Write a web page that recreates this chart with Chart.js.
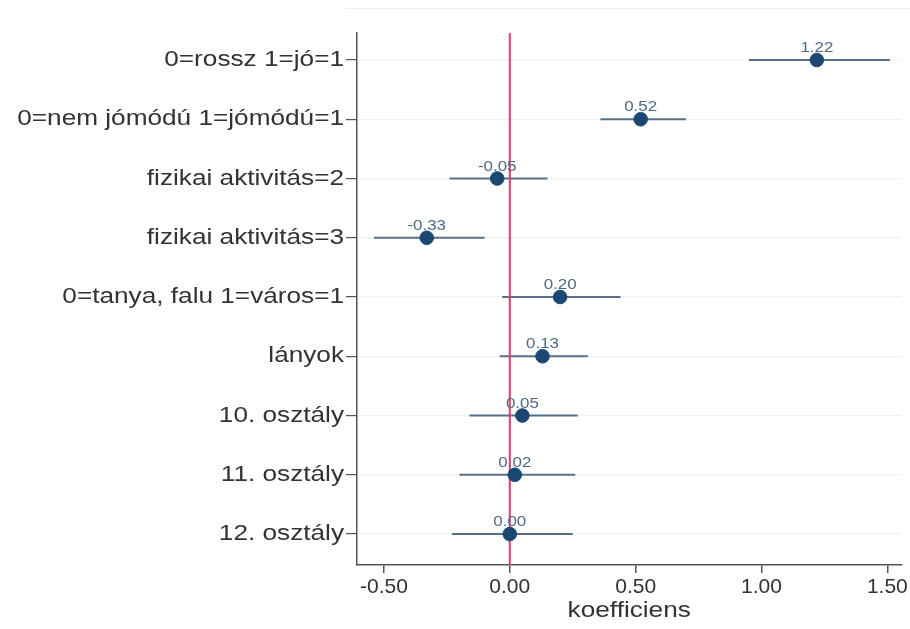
<!DOCTYPE html>
<html>
<head>
<meta charset="utf-8">
<script src="https://cdn.jsdelivr.net/npm/chart.js@4/dist/chart.umd.min.js"></script>
<style>
html,body{margin:0;padding:0;background:#fff;}
#wrap{width:910px;height:629px;position:relative;}
</style>
</head>
<body>
<div id="wrap"><canvas id="c" width="910" height="629"></canvas></div>
<script>
const categories = ["0=rossz 1=jó=1","0=nem jómódú 1=jómódú=1","fizikai aktivitás=2","fizikai aktivitás=3","0=tanya, falu 1=város=1","lányok","10. osztály","11. osztály","12. osztály"];
const coefs = [1.22, 0.52, -0.05, -0.33, 0.20, 0.13, 0.05, 0.02, 0.00];
const ciLow = [0.95, 0.36, -0.24, -0.54, -0.03, -0.04, -0.16, -0.20, -0.23];
const ciHigh = [1.51, 0.70, 0.15, -0.10, 0.44, 0.31, 0.27, 0.26, 0.25];
const xTicks = [-0.5, 0, 0.5, 1.0, 1.5];
const refValue = 0;

const Y_MIN = 0.544, Y_MAX = 9.523;
const dotColor = '#1b4872';
const barColor = '#56708a';
const labelColor = '#4f6a86';
const FONT = '"Liberation Sans", Arial, sans-serif';

// horizontally widen text drawn at certain sizes (the reference text is wide)
const canvas = document.getElementById('c');
const ctx0 = canvas.getContext('2d');
const origFill = ctx0.fillText.bind(ctx0);
const widen = {'22px': 1.19, '15px': 1.13};
ctx0.fillText = function(t, x, y, mw) {
  const m = /(\d+)px/.exec(ctx0.font);
  const s = m ? widen[m[1] + 'px'] : undefined;
  if (!s) return origFill(t, x, y);
  ctx0.save();
  ctx0.translate(x, y);
  ctx0.scale(s, 1);
  origFill(t, 0, 0);
  ctx0.restore();
};

const datasets = [];
categories.forEach((c, i) => {
  datasets.push({
    type: 'line',
    data: [{x: ciLow[i], y: i + 1}, {x: ciHigh[i], y: i + 1}],
    borderColor: barColor,
    borderWidth: 2.2,
    pointRadius: 0,
    fill: false,
    order: 2
  });
});
datasets.push({
  type: 'line',
  data: [{x: refValue, y: Y_MIN}, {x: refValue, y: Y_MAX}],
  borderColor: '#d5416b',
  borderWidth: 2,
  pointRadius: 0,
  fill: false,
  order: 1
});
datasets.push({
  type: 'scatter',
  data: coefs.map((v, i) => ({x: v, y: i + 1})),
  backgroundColor: dotColor,
  borderColor: dotColor,
  pointRadius: 6.8,
  pointHoverRadius: 6.8,
  order: 0
});

const valueLabels = {
  id: 'valueLabels',
  afterDatasetsDraw(chart) {
    const ctx = chart.ctx;
    const xs = chart.scales.x, ys = chart.scales.y;
    ctx.save();
    ctx.font = '15px ' + FONT;
    ctx.fillStyle = labelColor;
    ctx.textAlign = 'center';
    ctx.textBaseline = 'alphabetic';
    coefs.forEach((v, i) => {
      ctx.fillText(v.toFixed(2), xs.getPixelForValue(v), ys.getPixelForValue(i + 1) - 8);
    });
    ctx.restore();
  }
};

const topRule = {
  id: 'topRule',
  beforeDraw(chart) {
    const ctx = chart.ctx;
    ctx.save();
    ctx.strokeStyle = '#eceff2';
    ctx.lineWidth = 1;
    ctx.beginPath();
    ctx.moveTo(345, 8.5);
    ctx.lineTo(chart.width, 8.5);
    ctx.stroke();
    ctx.restore();
  }
};

new Chart(canvas, {
  type: 'scatter',
  data: {datasets},
  options: {
    responsive: false,
    animation: false,
    layout: {padding: {top: 33, right: 8, left: 0, bottom: 0}},
    plugins: {legend: {display: false}, tooltip: {enabled: false}},
    scales: {
      x: {
        type: 'linear',
        min: -0.607,
        max: 1.556,
        afterBuildTicks: (axis) => { axis.ticks = xTicks.map(v => ({value: v})); },
        afterFit: (s) => { s.height = 64; },
        border: {display: true, color: '#555', width: 1.5},
        grid: {drawOnChartArea: false, color: '#555', tickColor: '#555', tickLength: 8, lineWidth: 1.5},
        ticks: {
          color: '#333',
          padding: 2,
          font: {family: FONT, size: 21},
          callback: (v) => Number(v).toFixed(2),
          maxRotation: 0
        },
        title: {
          display: true,
          text: 'koefficiens',
          color: '#333',
          padding: {top: 0, bottom: 5},
          font: {family: FONT, size: 22}
        }
      },
      y: {
        type: 'linear',
        reverse: true,
        min: Y_MIN,
        max: Y_MAX,
        afterBuildTicks: (axis) => { axis.ticks = categories.map((c, i) => ({value: i + 1})); },
        afterFit: (s) => { s.width = 357; },
        border: {display: true, color: '#555', width: 1.5},
        grid: {color: '#eef0f2', tickColor: '#555', tickLength: 11, lineWidth: 1.2},
        ticks: {
          color: '#333',
          padding: 2,
          font: {family: FONT, size: 22},
          callback: (v) => categories[Math.round(v) - 1] || ''
        }
      }
    }
  },
  plugins: [valueLabels, topRule]
});
</script>
</body>
</html>
